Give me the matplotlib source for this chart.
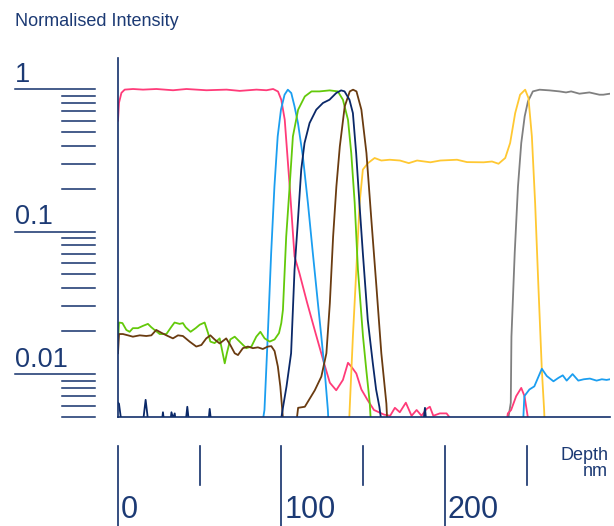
import matplotlib
matplotlib.use('Agg')
import matplotlib.pyplot as plt
from matplotlib.ticker import NullLocator
from matplotlib.transforms import blended_transform_factory, offset_copy

# data (depth in nm, normalised intensity)
pink_depth = [0, 0.6, 2.1, 4.1, 9.2, 15.3, 23.5, 33.7, 41.9, 54.1, 66.4, 74.5, 84.7, 90.8, 94.9,
              97.9, 99.9, 102, 105, 108, 111, 115.6, 120.8, 126, 129.6, 133.5, 137.6, 140.7, 142.7,
              145.8, 148.9, 152.6, 156.6, 162.7, 166.5, 169.4, 172.4, 176.1, 179.6, 182.7, 185.7,
              188.8, 190.8, 192.9, 196.9, 201, 202.7, 204, 237, 238.5, 240.5, 243.6, 246.7, 248.7,
              250.7, 251.5]
pink_int = [0.60, 0.80, 0.94, 0.99, 1.0, 0.99, 1.0, 0.98, 1.0, 0.98, 0.99, 0.97, 0.99, 0.98, 1.0,
            0.96, 0.84, 0.61, 0.21, 0.067, 0.051, 0.032, 0.0195, 0.012, 0.0087, 0.0077, 0.0091,
            0.012, 0.0113, 0.0101, 0.0078, 0.0066, 0.0056, 0.0052, 0.0051, 0.0058, 0.0054, 0.0063,
            0.0051, 0.0056, 0.0051, 0.0057, 0.0059, 0.0051, 0.0053, 0.0053, 0.005, 0.004, 0.004,
            0.0053, 0.0056, 0.0070, 0.0080, 0.0070, 0.005, 0.004]

blue_depth = [87.6, 89.6, 91.6, 93.7, 95.7, 97.7, 99.7, 101.9, 103.9, 106, 108, 110.1, 113.1, 116.2,
              119.2, 122.3, 124.4, 126.4, 128.4, 129, 247.6, 248.6, 251.7, 254.7, 259.3, 262.3,
              266.4, 269.4, 272.1, 274.5, 278.1, 281.6, 285, 288.7, 292.8, 296, 298.9, 301]
blue_int = [0.004, 0.0056, 0.0183, 0.0705, 0.207, 0.465, 0.716, 0.912, 0.989, 0.937, 0.755, 0.577,
            0.336, 0.158, 0.0705, 0.0314, 0.0183, 0.0107, 0.0056, 0.004, 0.004, 0.0070, 0.0078,
            0.0082, 0.0109, 0.0097, 0.0089, 0.0094, 0.0098, 0.0090, 0.0100, 0.0090, 0.0092,
            0.0093, 0.0090, 0.0092, 0.0091, 0.0092]

green_depth = [0, 0.6, 2.7, 5.1, 7.1, 9.1, 12.2, 15.3, 18.3, 20.4, 22.4, 25.5, 29.6, 32.7, 34.6,
               37.7, 39.7, 41.4, 44.4, 47.5, 50, 53, 55.1, 56.5, 59.1, 62.2, 65.3, 66.6, 68.7, 71.4,
               74.4, 78.5, 81.6, 84.6, 87.1, 89.7, 92.8, 95.8, 98.5, 99.9, 100.9, 102.9, 105, 107,
               110.2, 114.3, 118.4, 123.3, 129.5, 134.5, 137.6, 140.7, 142.7, 144.8, 146.8, 149.9,
               151.9, 154, 155]
green_int = [0.0165, 0.0230, 0.0228, 0.0204, 0.0198, 0.0210, 0.0210, 0.0218, 0.0225, 0.0213,
             0.0204, 0.0191, 0.0191, 0.0215, 0.0230, 0.0225, 0.0228, 0.0213, 0.0198, 0.0210,
             0.0222, 0.0230, 0.0194, 0.0169, 0.0165, 0.0178, 0.0119, 0.0140, 0.0175, 0.0183,
             0.0169, 0.0152, 0.0156, 0.0183, 0.0198, 0.0178, 0.0169, 0.0175, 0.0194, 0.0228,
             0.0282, 0.092, 0.207, 0.465, 0.716, 0.887, 0.962, 0.962, 0.978, 0.962, 0.841, 0.609,
             0.355, 0.159, 0.0538, 0.0183, 0.0107, 0.0063, 0.004]

brown_depth = [0, 0.6, 3, 6.1, 9.1, 13.3, 17.3, 20.4, 23.4, 26.5, 29.6, 33.6, 36.7, 39.7, 43.8,
               47.9, 51, 54, 56.5, 59.1, 62.2, 66.2, 68.7, 71.4, 73.4, 76.4, 79.5, 82.5, 85.6, 88.6,
               91.7, 93.8, 95.8, 97.8, 99.3, 100.5, 101.5, 108.5, 110.2, 114.3, 120.4, 124.4, 127.5,
               129.6, 131.6, 133.6, 135.7, 138.7, 141.8, 143.8, 145.9, 148.9, 152, 155, 158.1,
               161.1, 164.2, 165]
brown_int = [0.0140, 0.0191, 0.0191, 0.0187, 0.0183, 0.0187, 0.0185, 0.0187, 0.0204, 0.0195,
             0.0187, 0.0178, 0.0187, 0.0185, 0.0169, 0.0156, 0.0160, 0.0178, 0.0187, 0.0175,
             0.0164, 0.0178, 0.0160, 0.0140, 0.0136, 0.0152, 0.0156, 0.0152, 0.0154, 0.0150,
             0.0156, 0.0157, 0.0145, 0.0113, 0.0082, 0.0056, 0.004, 0.004, 0.0058, 0.0059, 0.0077,
             0.0096, 0.0140, 0.0314, 0.092, 0.207, 0.395, 0.755, 0.962, 0.989, 0.962, 0.716,
             0.355, 0.121, 0.0411, 0.0140, 0.0062, 0.004]

navy_depth = [0, 0.6, 2.1, 15.3, 16.9, 18.5, 26.8, 27.5, 28.2, 32.0, 32.7, 33.7, 34.7, 35.4, 41.4,
              42.4, 43.4, 55.3, 56.1, 57, 99.5, 101, 103.1, 105.9, 108, 110.1, 112.1, 114.1, 117.2,
              121.3, 125.4, 129.4, 133.5, 136.5, 138.6, 141.6, 143.7, 145.7, 147.7, 149.8, 152.8,
              155.9, 157.9, 159.9, 161.2, 186.8, 187.8, 188.6]
navy_int = [0.0063, 0.0062, 0.0046, 0.0046, 0.0066, 0.0046, 0.0046, 0.0054, 0.0046, 0.0046,
            0.0054, 0.0049, 0.0053, 0.0046, 0.0046, 0.0059, 0.0046, 0.0046, 0.0057, 0.0046,
            0.0046, 0.0059, 0.0082, 0.0140, 0.0538, 0.121, 0.272, 0.417, 0.577, 0.716, 0.798,
            0.841, 0.937, 0.978, 0.962, 0.841, 0.678, 0.355, 0.158, 0.0705, 0.0240, 0.0119,
            0.0078, 0.0059, 0.0046, 0.0046, 0.0058, 0.0046]

yellow_depth = [141.2, 141.7, 143.7, 145.8, 147.8, 149.8, 152.9, 157, 161.1, 166.2, 172.5, 177.9,
                183, 191.1, 197.2, 207.4, 213.5, 223.7, 228.8, 232.8, 236.9, 239.9, 243, 246,
                249.1, 251.1, 253.2, 255.2, 257.2, 259.3, 260.7, 261.2]
yellow_int = [0.004, 0.0056, 0.0183, 0.0538, 0.158, 0.272, 0.302, 0.328, 0.315, 0.319, 0.315,
              0.302, 0.315, 0.306, 0.315, 0.319, 0.307, 0.306, 0.310, 0.299, 0.328, 0.418, 0.678,
              0.912, 0.989, 0.865, 0.465, 0.158, 0.0411, 0.0107, 0.0056, 0.004]

gray_depth = [238.2, 238.9, 240.3, 240.7, 242.7, 244.7, 246.7, 248.8, 250.8, 253.8, 257.9, 264,
              270.1, 274.1, 277.2, 282.3, 288.4, 294.5, 296.9, 301]
gray_int = [0.004, 0.005, 0.0063, 0.0183, 0.0705, 0.207, 0.417, 0.642, 0.818, 0.962, 0.989, 0.978,
            0.962, 0.946, 0.962, 0.927, 0.946, 0.912, 0.912, 0.927]

y_major = [1, 0.1, 0.01]
y_major_labels = ['1', '0.1', '0.01']
y_minor = [m * d for d in (0.1, 0.01, 0.001) for m in range(2, 10) if 0.005 <= m * d < 1]
x_major = [0, 100, 200]
x_minor = [50, 150, 250]

NAVY = '#13306b'
TEXT = '#1c3a74'

plt.rcParams['font.family'] = ['Liberation Sans', 'DejaVu Sans']


def main():
    fig = plt.figure(figsize=(6.14, 5.26), dpi=100)
    ax = fig.add_axes([118 / 614, 109 / 526, 492 / 614, 359 / 526])

    series = [
        (gray_depth, gray_int, '#808080'),
        (pink_depth, pink_int, '#ff3b79'),
        (yellow_depth, yellow_int, '#ffc832'),
        (blue_depth, blue_int, '#1b9ef0'),
        (green_depth, green_int, '#63c90a'),
        (brown_depth, brown_int, '#6a3b10'),
        (navy_depth, navy_int, '#0a2868'),
    ]
    for d, v, c in series:
        ax.plot(d, v, color=c, lw=1.3)

    ax.set_yscale('log')
    ax.set_ylim(0.005, 1.65)
    ax.set_xlim(0, 301)
    ax.set_xticks([])
    ax.yaxis.set_major_locator(NullLocator())
    ax.yaxis.set_minor_locator(NullLocator())
    for s in ('top', 'right'):
        ax.spines[s].set_visible(False)
    for s in ('left', 'bottom'):
        ax.spines[s].set_color(NAVY)
        ax.spines[s].set_linewidth(1.2)

    # detached y scale on the left
    ytr = ax.get_yaxis_transform()
    for v in y_major:
        ax.plot([-0.2093, -0.0467], [v, v], transform=ytr, clip_on=False, color=NAVY, lw=1.1)
    for v in y_minor:
        ax.plot([-0.1138, -0.0467], [v, v], transform=ytr, clip_on=False, color=NAVY, lw=1.1)
    lab_tr = offset_copy(ytr, fig=fig, y=7.5, units='dots')
    for v, t in zip(y_major, y_major_labels):
        ax.text(-0.2093, v, t, transform=lab_tr, ha='left', va='baseline',
                fontsize=19.5, color=TEXT)

    # detached depth scale below
    xtr = blended_transform_factory(ax.transData, fig.transFigure)
    for v in x_major:
        ax.plot([v, v], [80 / 526, -0.01], transform=xtr, clip_on=False, color=NAVY, lw=1.2)
    for v in x_minor:
        ax.plot([v, v], [80 / 526, 41 / 526], transform=xtr, clip_on=False, color=NAVY, lw=1.2)
    xlab_tr = offset_copy(xtr, fig=fig, x=3, units='dots')
    for v in x_major:
        ax.text(v, 0.5 / 526, str(v), transform=xlab_tr, ha='left', va='bottom',
                fontsize=22, color=TEXT)

    fig.text(608 / 614, 46 / 526, 'Depth\nnm', ha='right', va='bottom', ma='right',
             linespacing=0.9, fontsize=13, color=TEXT)
    fig.text(15 / 614, 500 / 526, 'Normalised Intensity', ha='left', va='baseline',
             fontsize=13, color=TEXT)

    fig.savefig('out.png', dpi=100)


if __name__ == '__main__':
    main()
